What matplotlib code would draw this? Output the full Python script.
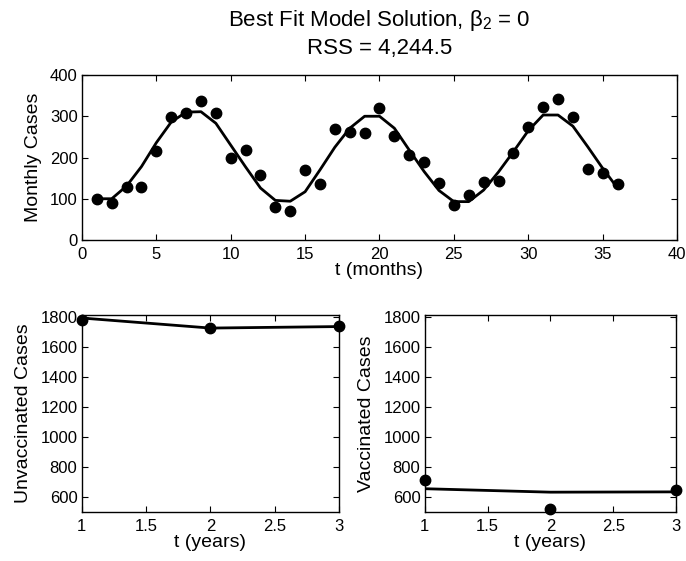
import numpy as np
import matplotlib
matplotlib.use("Agg")
import matplotlib.pyplot as plt

plt.rcParams['font.family'] = ['Liberation Sans', 'DejaVu Sans']
plt.rcParams['mathtext.fontset'] = 'custom'
plt.rcParams['mathtext.rm'] = 'Liberation Sans'
plt.rcParams['mathtext.it'] = 'Liberation Sans'

# Monthly case data and model fit
months = list(range(1, 37))
monthly_cases = [100, 90, 129, 129, 216, 298, 307, 337, 309, 200, 218, 158,
                 81, 71, 170, 136, 269, 263, 259, 319, 251, 206, 190, 137,
                 86, 109, 140, 144, 210, 275, 322, 343, 297, 172, 163, 136]
monthly_model = [100, 100, 131, 178, 236, 286, 310, 311, 283, 230, 177, 126,
                 96, 94, 117, 170, 225, 271, 300, 300, 271, 218, 166, 120,
                 93, 93, 121, 165, 214, 265, 303, 303, 276, 226, 174, 126]

# Yearly totals
years = [1, 2, 3]
unvacc_cases = [1780, 1723, 1740]
unvacc_model = [1790, 1723, 1733]
vacc_cases = [708, 520, 644]
vacc_model = [653, 630, 632]

fig = plt.figure(figsize=(6.86, 5.61), dpi=100)

ax_top = fig.add_axes([0.1195, 0.5722, 0.8674, 0.2941])
ax_bl = fig.add_axes([0.119, 0.0879, 0.3752, 0.3506])
ax_br = fig.add_axes([0.619, 0.0879, 0.3669, 0.3506])

def style(ax):
    ax.tick_params(direction='in', top=True, right=True, length=4,
                   width=0.8, labelsize=12)
    ax.tick_params(axis='x', pad=5)
    ax.tick_params(axis='y', pad=3)
    for s in ax.spines.values():
        s.set_linewidth(1.0)

ax_top.plot(months, monthly_model, color='black', lw=2)
ax_top.plot(months, monthly_cases, 'o', color='black', ms=7.5)
ax_top.set_xlim(0, 40)
ax_top.set_ylim(0, 400)
ax_top.set_xticks(range(0, 41, 5))
ax_top.set_yticks(range(0, 401, 100))
ax_top.set_xlabel('t (months)', fontsize=14, labelpad=0)
ax_top.set_ylabel('Monthly Cases', fontsize=14, labelpad=6)
ax_top.set_title('Best Fit Model Solution, β$_{2}$ = 0\nRSS = 4,244.5',
                 fontsize=16, linespacing=1.3, pad=15)
style(ax_top)

ax_bl.plot(years, unvacc_model, color='black', lw=2)
ax_bl.plot(years, unvacc_cases, 'o', color='black', ms=7.5, clip_on=False)
ax_bl.set_ylabel('Unvaccinated Cases', fontsize=14, labelpad=6)

ax_br.plot(years, vacc_model, color='black', lw=2)
ax_br.plot(years, vacc_cases, 'o', color='black', ms=7.5, clip_on=False)
ax_br.set_ylabel('Vaccinated Cases', fontsize=14, labelpad=6)

for ax in (ax_bl, ax_br):
    ax.set_xlim(1, 3)
    ax.set_ylim(500, 1810)
    ax.set_xticks([1, 1.5, 2, 2.5, 3])
    ax.set_xticklabels(['1', '1.5', '2', '2.5', '3'])
    ax.set_yticks(range(600, 1801, 200))
    ax.set_xlabel('t (years)', fontsize=14, labelpad=0)
    style(ax)

fig.savefig('out.png', dpi=100)
